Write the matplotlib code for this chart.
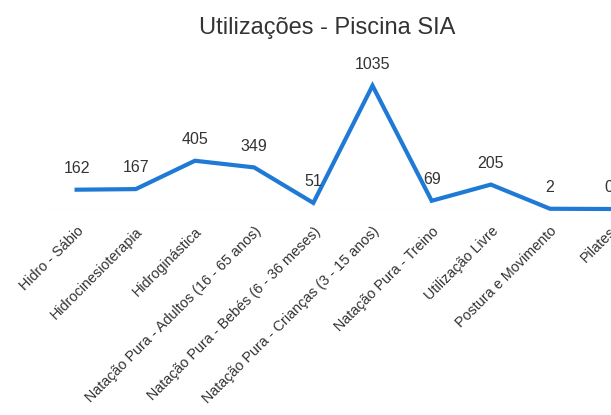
import matplotlib
matplotlib.use('Agg')
from matplotlib import pyplot as plt
from matplotlib import font_manager

categorias = ['Hidro - Sábio', 'Hidrocinesioterapia', 'Hidroginástica',
              'Natação Pura - Adultos (16 - 65 anos)',
              'Natação Pura - Bebés (6 - 36 meses)',
              'Natação Pura - Crianças (3 - 15 anos)',
              'Natação Pura - Treino', 'Utilização Livre',
              'Postura e Movimento', 'Pilates']
utilizacoes = [162, 167, 405, 349, 51, 1035, 69, 205, 2, 0]

nomes = {f.name for f in font_manager.fontManager.ttflist}
fonte = 'Liberation Sans Narrow' if 'Liberation Sans Narrow' in nomes else 'Liberation Sans'
plt.rcParams['font.family'] = [fonte, 'DejaVu Sans']

cor_texto = '#333333'
W, H = 611, 415
fig = plt.figure(figsize=(W / 100, H / 100), dpi=100)

# 0 -> ~208 px do topo, 1200 -> ~65 px do topo
ax = fig.add_axes([47 / W, 206 / H, (W - 47) / W, 143 / H])
x = list(range(len(categorias)))
ax.plot(x, utilizacoes, color='#1f7ad6', linewidth=3, clip_on=False,
        solid_joinstyle='miter')
ax.axhline(0, color='#e3e3e3', linewidth=0.8, zorder=0)

for xi, v in zip(x, utilizacoes):
    ax.annotate(str(v), (xi, v), xytext=(0, 10), textcoords='offset points',
                ha='center', va='bottom', fontsize=11.5, color=cor_texto)

ax.set_xlim(-0.5, 9.03)
ax.set_ylim(0, 1200)
ax.set_xticks(x)
ax.set_xticklabels(categorias, rotation=45, ha='right', rotation_mode='anchor',
                   fontsize=10.4, color=cor_texto)
ax.tick_params(axis='x', length=0, pad=11)
ax.set_yticks([])
for s in ax.spines.values():
    s.set_visible(False)

fig.text(327 / W, 1 - 28 / H, 'Utilizações - Piscina SIA', ha='center', va='center',
         fontsize=17, color=cor_texto)

fig.savefig('out.png', dpi=100)
